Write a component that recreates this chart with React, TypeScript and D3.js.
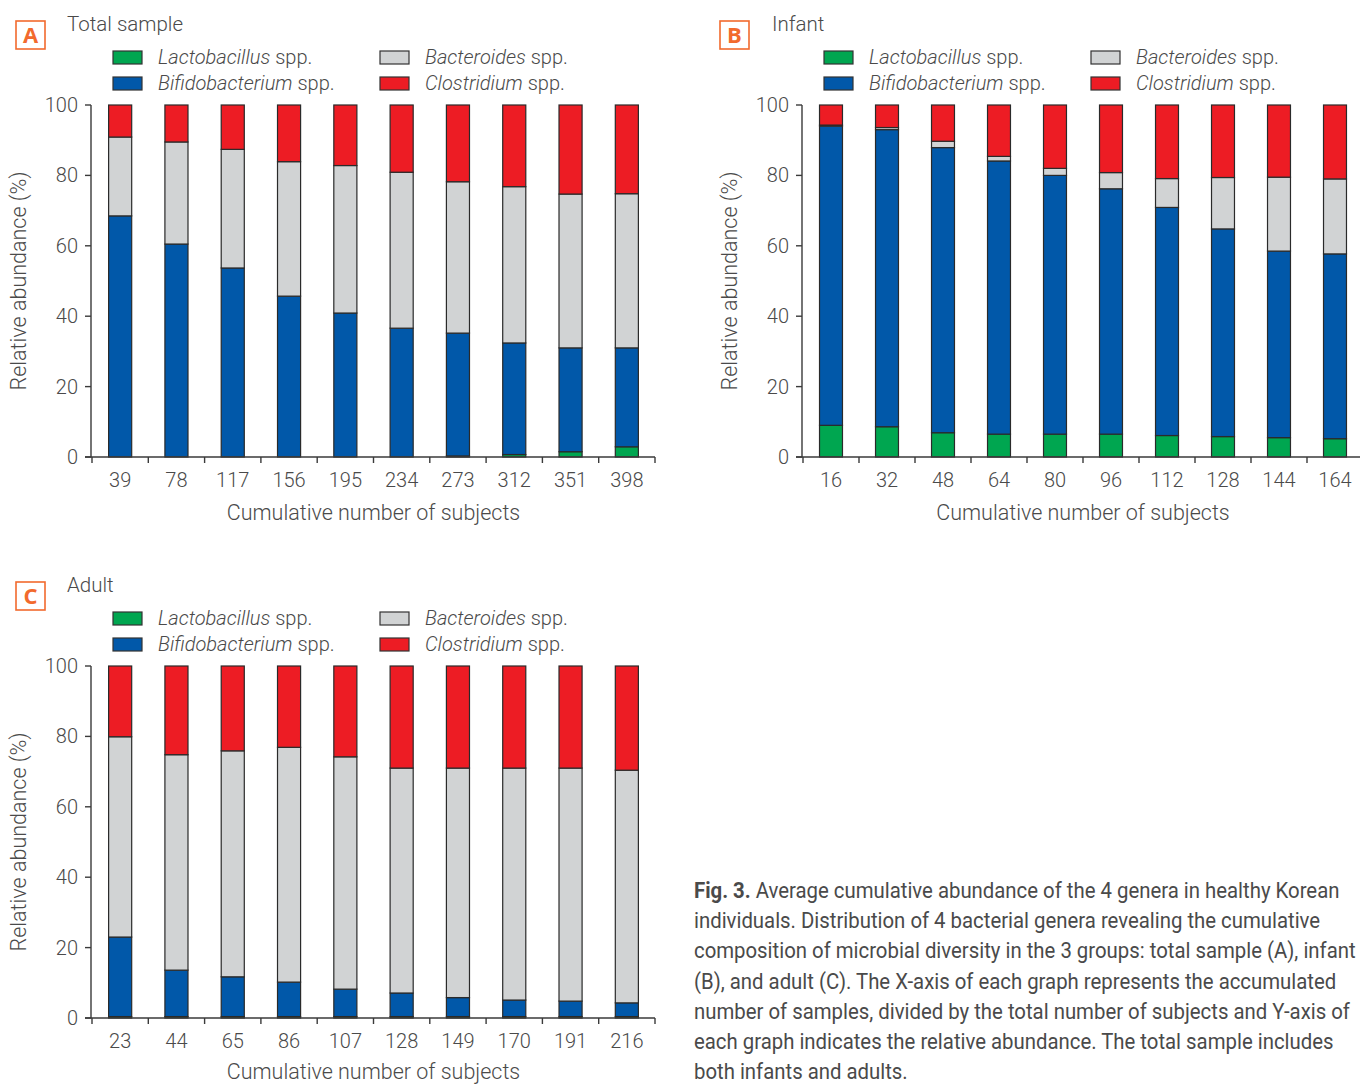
import React, { useLayoutEffect, useRef, useState } from "react";
import * as d3 from "d3";

const seriesNames = ["Lactobacillus", "Bifidobacterium", "Bacteroides", "Clostridium"];
const seriesColors = ["#00a650", "#0158a9", "#d1d3d4", "#ed1c24"];

// Panel A: Total sample
const totalLabels = ["39", "78", "117", "156", "195", "234", "273", "312", "351", "398"];
const totalLacto = [0, 0, 0, 0, 0, 0, 0.3, 0.7, 1.5, 2.9];
const totalBifido = [68.5, 60.5, 53.7, 45.7, 40.9, 36.6, 34.9, 31.7, 29.5, 28.1];
const totalBactero = [22.4, 29.0, 33.7, 38.2, 41.9, 44.3, 43.0, 44.4, 43.7, 43.8];
const totalClostri = [9.1, 10.5, 12.6, 16.1, 17.2, 19.1, 21.8, 23.2, 25.3, 25.2];

// Panel B: Infant
const infantLabels = ["16", "32", "48", "64", "80", "96", "112", "128", "144", "164"];
const infantLacto = [9.0, 8.6, 6.9, 6.5, 6.5, 6.5, 6.1, 5.8, 5.5, 5.2];
const infantBifido = [85.0, 84.4, 81.0, 77.6, 73.5, 69.7, 64.8, 59.0, 53.0, 52.5];
const infantBactero = [0.3, 0.6, 1.8, 1.3, 2.0, 4.6, 8.2, 14.6, 21.0, 21.3];
const infantClostri = [5.7, 6.4, 10.3, 14.6, 18.0, 19.2, 20.9, 20.6, 20.5, 21.0];

// Panel C: Adult
const adultLabels = ["23", "44", "65", "86", "107", "128", "149", "170", "191", "216"];
const adultLacto = [0.4, 0.4, 0.4, 0.4, 0.4, 0.4, 0.4, 0.4, 0.4, 0.4];
const adultBifido = [22.6, 13.2, 11.3, 9.8, 7.8, 6.7, 5.4, 4.7, 4.4, 3.9];
const adultBactero = [56.9, 61.2, 64.2, 66.7, 66.0, 63.9, 65.2, 65.9, 66.2, 66.1];
const adultClostri = [20.1, 25.2, 24.1, 23.1, 25.8, 29.0, 29.0, 29.0, 29.0, 29.6];

const yTicks = [0, 20, 40, 60, 80, 100];

const captionLines = [
  "individuals. Distribution of 4 bacterial genera revealing the cumulative",
  "composition of microbial diversity in the 3 groups: total sample (A), infant",
  "(B), and adult (C). The X-axis of each graph represents the accumulated",
  "number of samples, divided by the total number of subjects and Y-axis of",
  "each graph indicates the relative abundance. The total sample includes",
  "both infants and adults.",
];

const FONT = "Roboto, 'Liberation Sans', Arial, sans-serif";
const TEXT = "#4a4a4a";
const AXIS = "#3a3a3a";

type PanelProps = {
  letter: string;
  title: string;
  labels: string[];
  values: number[][];
  ox: number;
  oy: number;
  plotW: number;
  boxX: number;
  titleX: number;
  xTitleY: number;
};

function Panel({ letter, title, labels, values, ox, oy, plotW, boxX, titleX, xTitleY }: PanelProps) {
  const plotH = 352;
  const x = d3.scaleBand<string>().domain(labels).range([ox + 1, ox + 1 + plotW]).paddingInner(0).paddingOuter(0);
  const y = d3.scaleLinear().domain([0, 100]).range([oy + plotH, oy]);
  const rows = labels.map((l, i) => {
    const r: any = { label: l };
    seriesNames.forEach((s, k) => (r[s] = values[k][i]));
    return r;
  });
  const stacked = d3.stack<any>().keys(seriesNames)(rows);
  const bw = x.bandwidth() * 0.41;
  const boundaries = labels.map((l) => x(l) as number).concat([(x(labels[labels.length - 1]) as number) + x.bandwidth()]);
  const baseY = y(0);
  const midX = ox + 1 + plotW / 2;

  const legendX = ox + 22;
  const legendY = oy - 54;
  const legendCol2 = 267;

  return (
    <g fontFamily={FONT}>
      <rect x={boxX} y={oy - 84} width={29} height={28} fill="none" stroke="#f26a2d" strokeWidth={1.6} />
      <text x={boxX + 14.5} y={oy - 62} textAnchor="middle" fontSize={22} fontWeight={700} fill="#f26a2d" fontFamily="'Open Sans', Arial, sans-serif">
        {letter}
      </text>
      <text x={titleX} y={oy - 74} fontSize={20.5} fontWeight={300} fill={TEXT}>
        {title}
      </text>
      {seriesNames.map((s, k) => {
        const col = Math.floor(k / 2);
        const row = k % 2;
        const lx = legendX + col * legendCol2;
        const ly = legendY + row * 26;
        return (
          <g key={s}>
            <rect x={lx} y={ly} width={29} height={13} fill={seriesColors[k]} stroke="#333" strokeWidth={1.2} />
            <text x={lx + 45} y={ly + 13} fontSize={20} fontWeight={300} fill={TEXT}>
              <tspan fontStyle="italic">{s}</tspan>
              <tspan> spp.</tspan>
            </text>
          </g>
        );
      })}
      {stacked.map((layer, k) => (
        <g key={layer.key}>
          {layer.map((d, i) => {
            const h = y(d[0]) - y(d[1]);
            if (h <= 0) return null;
            return (
              <rect
                key={i}
                x={(x(labels[i]) as number) + (x.bandwidth() - bw) / 2}
                y={y(d[1])}
                width={bw}
                height={h}
                fill={seriesColors[k]}
                stroke="#2a2a2a"
                strokeWidth={1.2}
              />
            );
          })}
        </g>
      ))}
      <line x1={ox} x2={ox} y1={y(100)} y2={baseY} stroke={AXIS} strokeWidth={1.4} />
      {yTicks.map((t) => (
        <g key={t}>
          <line x1={ox - 6} x2={ox} y1={y(t)} y2={y(t)} stroke={AXIS} strokeWidth={1.4} />
          <text x={ox - 13} y={y(t) + 7} textAnchor="end" fontSize={20} fontWeight={300} fill={TEXT}>
            {t}
          </text>
        </g>
      ))}
      <text
        transform={`translate(${ox - 65},${(y(0) + y(100)) / 2}) rotate(-90)`}
        textAnchor="middle"
        fontSize={21.5}
        fontWeight={300}
        fill={TEXT}
      >
        Relative abundance (%)
      </text>
      <line x1={ox - 6} x2={boundaries[boundaries.length - 1]} y1={baseY} y2={baseY} stroke={AXIS} strokeWidth={1.4} />
      {boundaries.map((b, i) => (
        <line key={i} x1={b} x2={b} y1={baseY} y2={baseY + 6} stroke={AXIS} strokeWidth={1.4} />
      ))}
      {labels.map((l) => (
        <text key={l} x={(x(l) as number) + x.bandwidth() / 2} y={baseY + 30} textAnchor="middle" fontSize={20} fontWeight={300} fill={TEXT}>
          {l}
        </text>
      ))}
      <text x={midX} y={xTitleY} textAnchor="middle" fontSize={21.5} fontWeight={300} fill={TEXT}>
        Cumulative number of subjects
      </text>
    </g>
  );
}

function Caption() {
  const ref = useRef<SVGGElement>(null);
  const [scale, setScale] = useState(0.85);
  useLayoutEffect(() => {
    const g = ref.current;
    if (!g) return;
    let maxW = 0;
    g.querySelectorAll("text").forEach((t) => {
      const w = (t as SVGTextElement).getComputedTextLength();
      if (w > maxW) maxW = w;
    });
    if (maxW > 0) setScale(Math.min(0.92, 662 / maxW));
  }, []);
  return (
    <g
      ref={ref}
      transform={`translate(694,0) scale(${scale},1)`}
      fontFamily="Roboto, 'Liberation Sans', Arial, sans-serif"
      fontSize={22.5}
      fill="#4a4a4a"
    >
      <text x={0} y={898}>
        <tspan fontWeight={700}>Fig. 3.</tspan>
        <tspan> Average cumulative abundance of the 4 genera in healthy Korean</tspan>
      </text>
      {captionLines.map((line, i) => (
        <text key={i} x={0} y={898 + (i + 1) * 30.2}>
          {line}
        </text>
      ))}
    </g>
  );
}

export default function App() {
  return (
    <svg
      width={1360}
      height={1084}
      style={{ position: "absolute", left: 0, top: 0, background: "#fff", overflow: "hidden" }}
    >
      <rect x={0} y={0} width={1360} height={1084} fill="#fff" />
      <Panel letter="A" title="Total sample" labels={totalLabels}
        values={[totalLacto, totalBifido, totalBactero, totalClostri]} ox={91} oy={105} plotW={563}
        boxX={16} titleX={67} xTitleY={520} />
      <Panel letter="B" title="Infant" labels={infantLabels}
        values={[infantLacto, infantBifido, infantBactero, infantClostri]} ox={802} oy={105} plotW={560}
        boxX={720} titleX={772} xTitleY={520} />
      <Panel letter="C" title="Adult" labels={adultLabels}
        values={[adultLacto, adultBifido, adultBactero, adultClostri]} ox={91} oy={666} plotW={563}
        boxX={16} titleX={67} xTitleY={1079} />
      <Caption />
    </svg>
  );
}
